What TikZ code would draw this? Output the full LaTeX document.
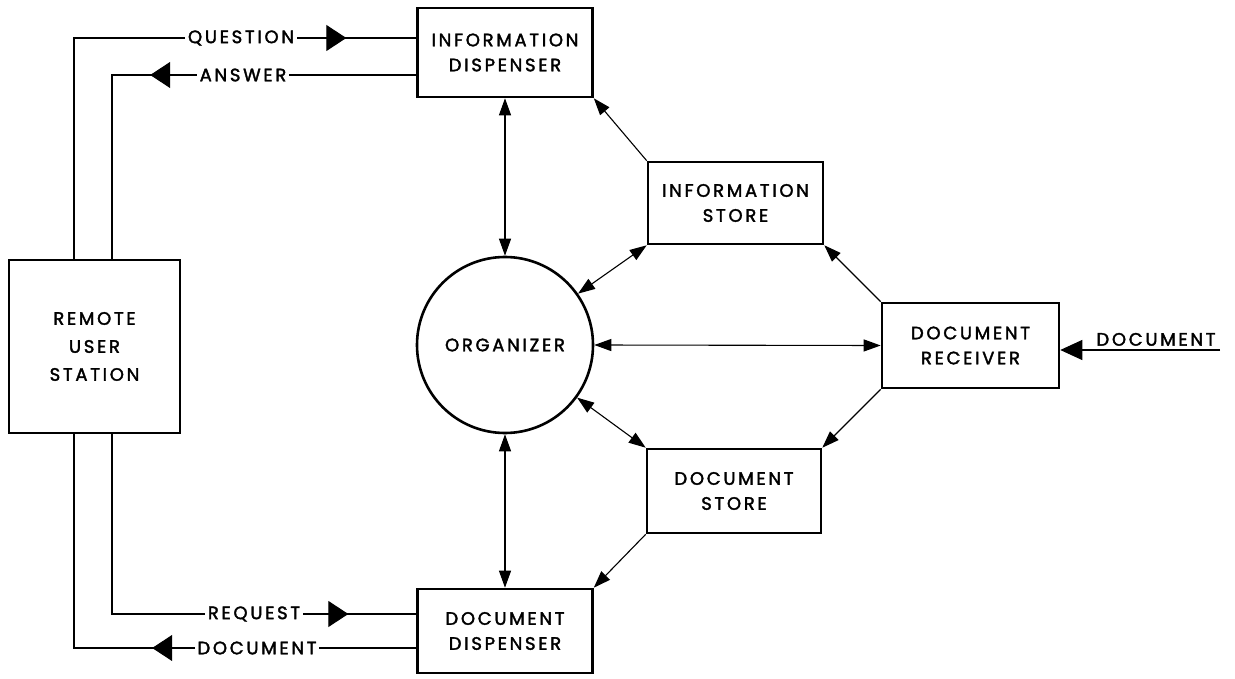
\documentclass[tikz,border=0pt]{standalone}
\usepackage{fontspec}
\setmainfont{Poppins}[LetterSpace=15,FakeBold=2]
\usetikzlibrary{arrows.meta,decorations.markings}
\tikzset{
  st/.tip={Triangle[length=17pt,width=12pt]},
  box/.style={draw,line width=2.6pt,rectangle,inner sep=0pt,align=center,font=\fontsize{18}{25}\selectfont},
  conn/.style={line width=1.1pt},
  lbl/.style={fill=white,inner sep=3pt,font=\fontsize{18}{18}\selectfont},
  flow/.style={conn,postaction={decorate},decoration={markings,mark=at position #1 with {\arrow{Triangle[length=20pt,width=26pt]}}}}
}
\begin{document}
\begin{tikzpicture}[x=1pt,y=-1pt]
\useasboundingbox (0,0) rectangle (1235,679);
% nodes
\node[box,minimum width=175pt,minimum height=89pt] (idisp) at (505,52.5) {INFORMATION\\DISPENSER};
\node[box,minimum width=175pt,minimum height=82pt] (istore) at (735.5,203) {INFORMATION\\STORE};
\node[draw,circle,line width=2.6pt,minimum size=176pt,inner sep=0pt,font=\fontsize{18}{18}\selectfont] (org) at (505,345) {ORGANIZER};
\node[box,minimum width=177pt,minimum height=85pt] (drecv) at (970.5,345.5) {DOCUMENT\\RECEIVER};
\node[box,minimum width=174pt,minimum height=84pt] (dstore) at (734,491) {DOCUMENT\\STORE};
\node[box,minimum width=175pt,minimum height=84pt] (ddisp) at (505,631) {DOCUMENT\\DISPENSER};
\node[box,minimum width=171pt,minimum height=173pt,font=\fontsize{18}{28}\selectfont] (rus) at (94.5,346.5) {REMOTE\\USER\\STATION};
% left loop coordinates
\coordinate (qL) at (74,38);
\coordinate (aL) at (112,75);
\coordinate (rL) at (112,614);
\coordinate (dL) at (74,648);
\coordinate (din) at (1220,350);
% left flows
\draw[flow=493pt] (qL |- rus.north) -- (qL) -- (qL -| idisp.west);
\node[lbl] (qlab) at (241,38) {QUESTION};
\draw[flow=266pt] (aL -| idisp.west) -- (aL) -- (aL |- rus.north);
\node[lbl] (alab) at (243,75) {ANSWER};
\draw[flow=416pt] (rL |- rus.south) -- (rL) -- (rL -| ddisp.west);
\node[lbl] (rlab) at (254,614) {REQUEST};
\draw[flow=264pt] (dL -| ddisp.west) -- (dL) -- (dL |- rus.south);
\node[lbl] (dlab) at (257,648) {DOCUMENT};
% input document
\draw[conn,-{Triangle[length=22pt,width=20pt]}] (din) -- (din -| drecv.east);
\node[font=\fontsize{18}{18}\selectfont,anchor=south,inner sep=2pt] (dinlab) at (1156,348) {DOCUMENT};
% internal connectors
\draw[conn,st-st] (idisp.south) -- (org.north);
\draw[conn,-st] (istore.north west) -- (idisp.south east);
\draw[conn,st-st] (org) -- (istore.south west);
\draw[conn,-st] (drecv.north west) -- (istore.south east);
\draw[conn,st-st] (org.east) -- (drecv.west);
\draw[conn,-st] (drecv.south west) -- (dstore.north east);
\draw[conn,st-st] (org) -- (dstore.north west);
\draw[conn,-st] (dstore.south west) -- (ddisp.north east);
\draw[conn,st-st] (org.south) -- (ddisp.north);
\end{tikzpicture}
\end{document}
